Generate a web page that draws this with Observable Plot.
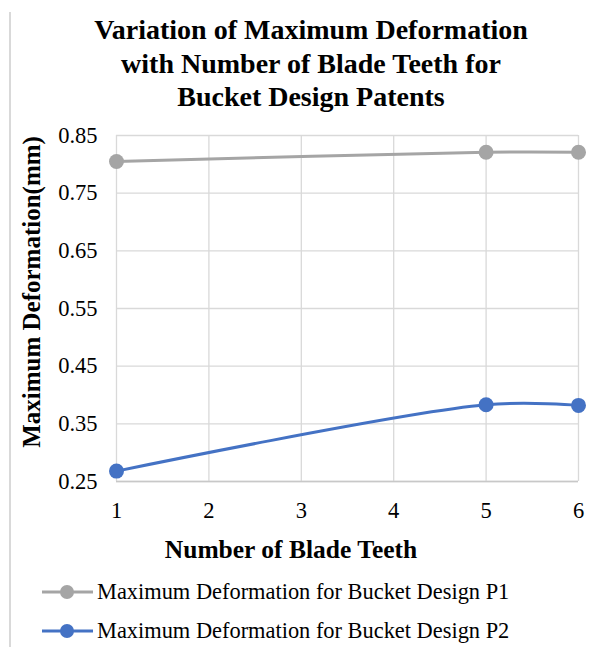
<!DOCTYPE html>
<html>
<head>
<script src="https://cdn.jsdelivr.net/npm/d3@7"></script>
<script src="https://cdn.jsdelivr.net/npm/@observablehq/plot@0.6"></script>
</head>
<body style="margin:0;padding:0;background:#fff;font-family:'Liberation Serif', serif">
<div id="wrap" style="position:relative;width:592px;height:647px;color:#000;font-family:'Liberation Serif', serif">
  <div style="position:absolute;left:9px;top:12px;bottom:0;width:2px;background:#d9d9d9"></div>
  <div style="position:absolute;left:20px;width:582px;top:13px;text-align:center;font-weight:bold;font-size:28px;line-height:33.5px">Variation of Maximum Deformation<br>with Number of Blade Teeth for<br>Bucket Design Patents</div>
  <div id="chart" style="position:absolute;left:0;top:115px"></div>
  <div style="position:absolute;left:31px;top:292px;transform:translate(-50%,-50%) rotate(-90deg);white-space:nowrap;font-weight:bold;font-size:25px;line-height:27px">Maximum Deformation(mm)</div>
  <div style="position:absolute;left:291px;top:550px;transform:translate(-50%,-50%);white-space:nowrap;font-weight:bold;font-size:25.5px;line-height:28px">Number of Blade Teeth</div>
  <div id="legend"></div>
</div>
<script>
const bladeTeeth = [1, 5, 6];
const deformationP1 = [0.805, 0.821, 0.821];
const deformationP2 = [0.268, 0.383, 0.382];
const seriesNames = ["Maximum Deformation for Bucket Design P1", "Maximum Deformation for Bucket Design P2"];
const seriesColors = ["#A5A5A5", "#4472C4"];
const yTicks = [0.25, 0.35, 0.45, 0.55, 0.65, 0.75, 0.85];
const xTicks = [1, 2, 3, 4, 5, 6];

const data = [];
[deformationP1, deformationP2].forEach((vals, si) => {
  vals.forEach((v, i) => data.push({series: seriesNames[si], x: bladeTeeth[i], y: v}));
});

const plot = Plot.plot({
  width: 592,
  height: 450,
  marginTop: 20,
  marginBottom: 84,
  marginLeft: 116,
  marginRight: 14,
  style: "font-family:'Liberation Serif', serif;font-size:22.5px;color:#000;background:transparent;overflow:visible",
  x: {domain: [1, 6], ticks: xTicks},
  y: {domain: [0.25, 0.85], ticks: yTicks},
  color: {domain: seriesNames, range: seriesColors},
  marks: [
    Plot.gridY(yTicks, {stroke: "#d9d9d9", strokeOpacity: 1, strokeWidth: 1.3}),
    Plot.gridX(xTicks, {stroke: "#d9d9d9", strokeOpacity: 1, strokeWidth: 1.3}),
    Plot.ruleY([0.25], {stroke: "#c8c8c8", strokeWidth: 1.5}),
    Plot.axisY(yTicks, {tickSize: 0, tickPadding: 19, tickFormat: d3.format(".2f"), label: null, fontSize: 22.5}),
    Plot.axisX(xTicks, {tickSize: 0, tickPadding: 21, tickFormat: d => String(d), label: null, fontSize: 22.5}),
    Plot.line(data, {x: "x", y: "y", z: "series", stroke: "series", strokeWidth: 3, curve: "catmull-rom"}),
    Plot.dot(data, {x: "x", y: "y", fill: "series", r: 7.5, stroke: "none"})
  ]
});
document.getElementById("chart").appendChild(plot);

const legend = document.getElementById("legend");
seriesNames.forEach((name, i) => {
  const row = document.createElement("div");
  row.style.cssText = "position:absolute;left:42px;top:" + (580 + i * 39) + "px;font-size:22.4px;line-height:24px;height:24px;white-space:nowrap;display:flex;align-items:center";
  row.innerHTML = '<svg width="51" height="24" style="margin-right:4px;flex:none"><line x1="0" x2="51" y1="12" y2="12" stroke="' + seriesColors[i] + '" stroke-width="3"/><circle cx="25" cy="12" r="7" fill="' + seriesColors[i] + '"/></svg><span>' + name + '</span>';
  legend.appendChild(row);
});
</script>
</body>
</html>
